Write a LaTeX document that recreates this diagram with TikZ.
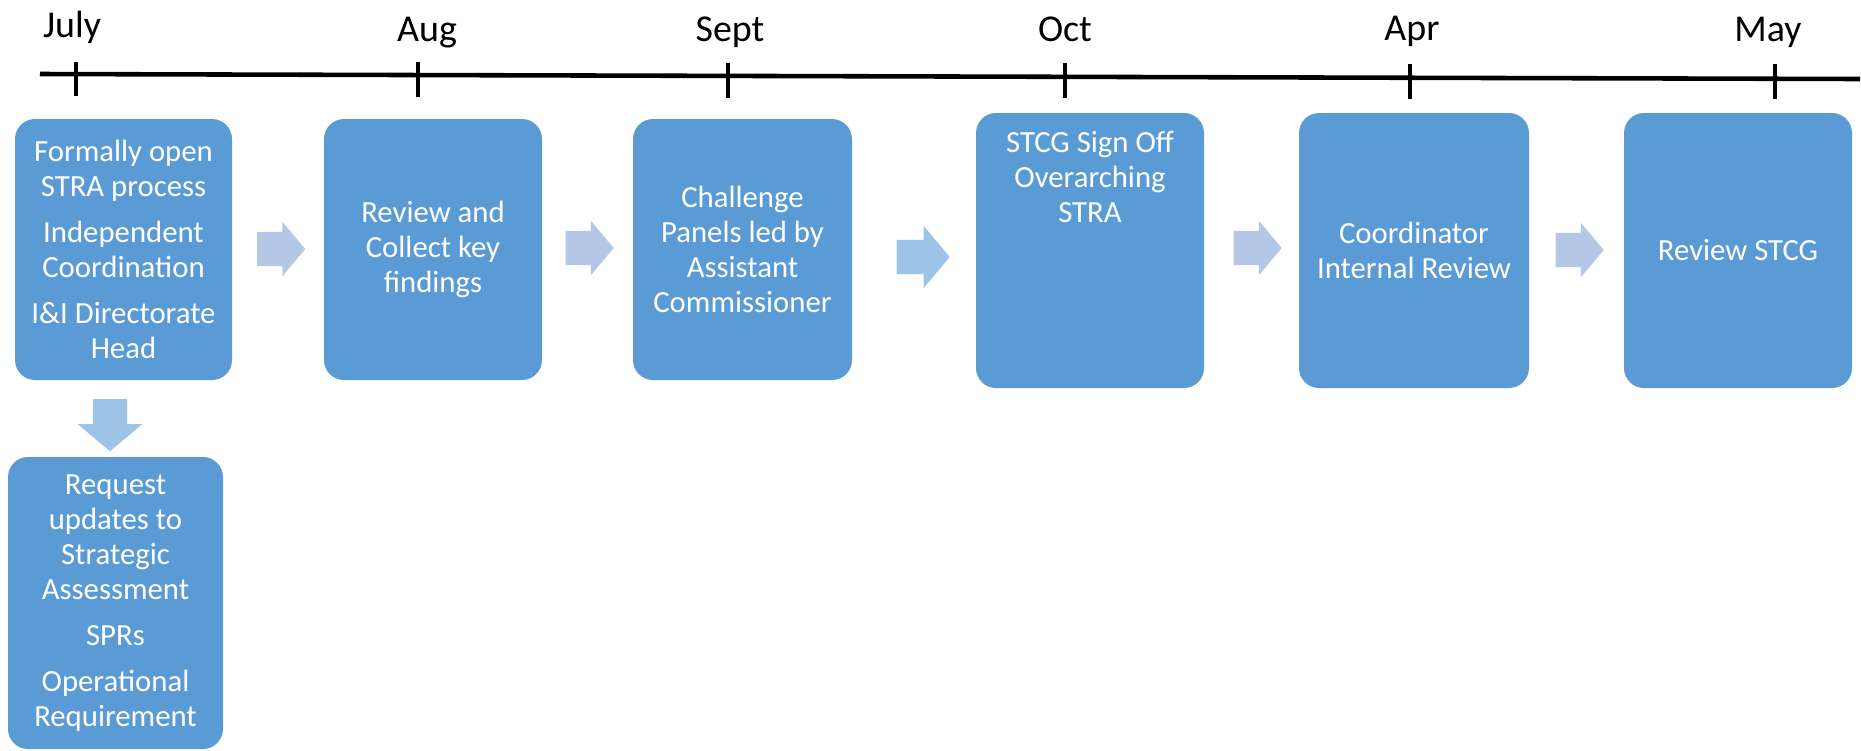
\documentclass[tikz,border=0pt]{standalone}
\usepackage{fontspec}
\setmainfont{Carlito}
\usetikzlibrary{shapes.arrows,positioning}
\definecolor{boxblue}{HTML}{5B9BD5}
\definecolor{arrowblue}{HTML}{B4C7E7}
\definecolor{arrowdark}{HTML}{9DC3E6}

\begin{document}
\begin{tikzpicture}[
  boxtext/.style={text=white, align=center, inner sep=0pt, font=\fontsize{8.75}{9.96}\selectfont},
  stepbox/.style={boxtext, rounded corners=2mm, fill=boxblue},
  month/.style={anchor=base, font=\fontsize{10.8}{13}\selectfont},
  flow/.style={single arrow, fill=arrowblue, inner xsep=0pt, inner ysep=1.65mm, minimum height=4.8mm,
    single arrow head extend=1mm, single arrow tip angle=100}
]
\useasboundingbox (0,0) rectangle (18.61,-7.50);

% timeline
\coordinate (t0) at (0.40,-0.74);
\coordinate (t1) at (18.60,-0.79);
\draw[line width=1.3pt] (t0) -- (t1);

\draw[line width=1.3pt] (0.76,-0.62) -- (0.76,-0.96);
\draw[line width=1.3pt] (4.18,-0.62) -- (4.18,-0.97);
\draw[line width=1.3pt] (7.28,-0.63) -- (7.28,-0.98);
\draw[line width=1.3pt] (10.65,-0.63) -- (10.65,-0.98);
\draw[line width=1.3pt] (14.10,-0.64) -- (14.10,-0.99);
\draw[line width=1.3pt] (17.75,-0.64) -- (17.75,-0.99);

\node[month] (jul) at (0.72,-0.37) {July};
\node[month] (aug) at (4.27,-0.41) {Aug};
\node[month] (sep) at (7.30,-0.41) {Sept};
\node[month] (oct) at (10.65,-0.41) {Oct};
\node[month] (apr) at (14.12,-0.40) {Apr};
\node[month] (may) at (17.68,-0.41) {May};

% steps
\node[stepbox, minimum width=2.17cm, minimum height=2.61cm] (b1) at (1.235,-2.495)
  {Formally open\\STRA process\\[3.1pt] Independent\\Coordination\\[3.1pt] I\&I Directorate\\Head};
\node[stepbox, minimum width=2.15cm, minimum height=2.92cm] (b7) at (1.155,-6.03)
  {Request\\updates to\\Strategic\\Assessment\\[3.1pt] SPRs\\[3.1pt] Operational\\Requirement};
\node[stepbox, minimum width=2.18cm, minimum height=2.61cm] (b2) at (4.33,-2.495)
  {Review and\\Collect key\\findings};
\node[stepbox, minimum width=2.19cm, minimum height=2.61cm] (b3) at (7.425,-2.495)
  {Challenge\\Panels led by\\Assistant\\Commissioner};
\node[stepbox, minimum width=2.28cm, minimum height=2.75cm] (b4) at (10.90,-2.505) {};
\node[boxtext, below=0.18cm of b4.north] (b4t) {STCG Sign Off\\Overarching\\STRA};
\node[stepbox, minimum width=2.30cm, minimum height=2.75cm] (b5) at (14.14,-2.505)
  {Coordinator\\Internal Review};
\node[stepbox, minimum width=2.28cm, minimum height=2.75cm] (b6) at (17.38,-2.505)
  {Review STCG};

% block arrows
\node[flow] (a1) at (2.74,-2.49) {};
\node[flow] (a2) at (5.825,-2.48) {};
\node[flow, fill=arrowdark, minimum height=5.3mm, single arrow head extend=1.4mm] (a3) at (9.16,-2.57) {};
\node[flow] (a4) at (12.505,-2.48) {};
\node[flow] (a5) at (15.725,-2.50) {};
\node[flow, fill=arrowdark, shape border rotate=270, inner xsep=1.65mm, inner ysep=0pt, minimum height=5.2mm,
  single arrow head extend=1.5mm] (a6) at (1.10,-4.18) {};
\end{tikzpicture}
\end{document}
